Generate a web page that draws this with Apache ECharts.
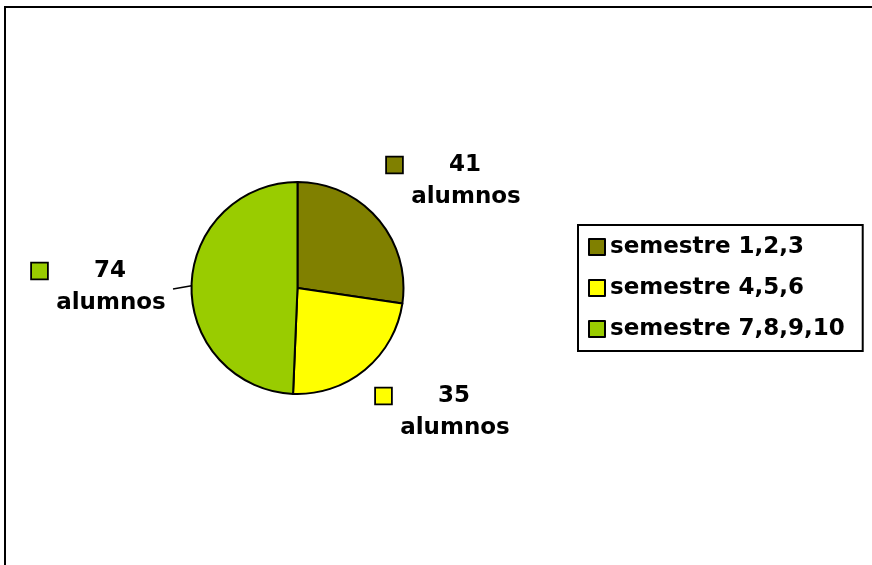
<!DOCTYPE html>
<html>
<head>
<meta charset="utf-8">
<script src="https://cdn.jsdelivr.net/npm/echarts@6/dist/echarts.min.js"></script>
<style>
html,body{margin:0;padding:0;background:#fff;}
#chart{width:872px;height:565px;}
</style>
</head>
<body>
<div id="chart"></div>
<script>
const categories = ['semestre 1,2,3', 'semestre 4,5,6', 'semestre 7,8,9,10'];
const values = [41, 35, 74];
const unitLabel = 'alumnos';

const colors = ['#808000', '#FFFF00', '#99CC00'];
const labelPos = [[466, 181], [455, 412], [111, 287]];
const FONT = '"DejaVu Sans", sans-serif';

const chart = echarts.init(document.getElementById('chart'), null, {renderer: 'canvas'});

const rich = {
  g: {width: 47},
  e: {width: 17},
  v: {fontFamily: FONT, fontWeight: 'bold', fontSize: 23, color: '#000', lineHeight: 32, align: 'center'},
  t: {fontFamily: FONT, fontWeight: 'bold', fontSize: 23, color: '#000', lineHeight: 32, align: 'center'}
};
colors.forEach((c, i) => {
  rich['sq' + i] = {width: 15, height: 15, backgroundColor: c, borderColor: '#000', borderWidth: 1.8};
});

const data = categories.map((name, i) => ({
  name: name,
  value: values[i],
  itemStyle: {color: colors[i]},
  labelLine: {show: i === 2}
}));

chart.setOption({
  animation: false,
  backgroundColor: '#fff',
  graphic: [{
    type: 'rect',
    shape: {x: 5, y: 7, width: 900, height: 600},
    style: {fill: 'none', stroke: '#000', lineWidth: 2},
    silent: true
  }],
  legend: {
    orient: 'vertical',
    left: 578,
    top: 225,
    padding: [8, 18, 8, 10],
    itemGap: 13,
    itemWidth: 16,
    itemHeight: 16,
    itemTextGap: 8,
    icon: 'rect',
    borderColor: '#000',
    borderWidth: 2,
    borderRadius: 0,
    data: categories,
    textStyle: {fontFamily: FONT, fontWeight: 'bold', fontSize: 23, color: '#000', lineHeight: 28}
  },
  series: [{
    type: 'pie',
    center: [297.5, 288],
    radius: [0, 106],
    startAngle: 90,
    clockwise: true,
    data: data,
    itemStyle: {borderColor: '#000', borderWidth: 2},
    emphasis: {disabled: true},
    label: {
      show: true,
      position: 'outside',
      formatter: p => `{sq${p.dataIndex}|}{g|}{v|${p.value}}{g|}{e|}\n{t|${unitLabel}}`,
      rich: rich
    },
    labelLine: {show: false, lineStyle: {color: '#000', width: 1.5}, length: 5, length2: 5},
    labelLayout: function (p) {
      const pos = labelPos[p.dataIndex];
      const out = {x: pos[0], y: pos[1], align: 'center', verticalAlign: 'middle'};
      if (p.dataIndex === 2) {
        const a = p.labelLinePoints ? p.labelLinePoints[0] : [191.5, 287.3];
        out.labelLinePoints = [a, [173, 289], [173, 289]];
      }
      return out;
    }
  }]
});
</script>
</body>
</html>
